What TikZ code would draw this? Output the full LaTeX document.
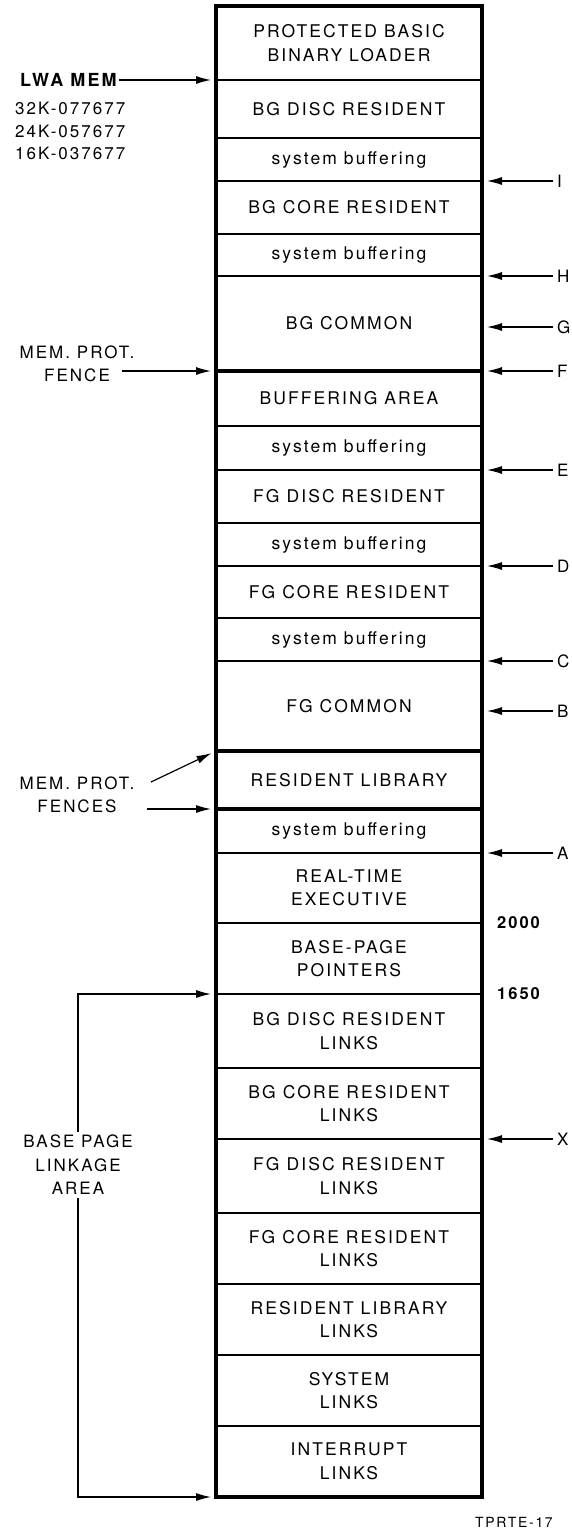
\documentclass[tikz,border=0pt]{standalone}
\usepackage{fontspec}
\setmainfont{TeX Gyre Heros}
\newfontfamily\memfont[LetterSpace=12]{TeX Gyre Heros}
\usetikzlibrary{arrows.meta,positioning,calc}

\begin{document}
\begin{tikzpicture}[x=1pt,y=-1pt,
    memrow/.style={draw, line width=1.3pt, minimum width=266pt, inner sep=0pt, outer sep=0pt,
      align=center, font=\memfont\fontsize{17.5}{23.5}\selectfont},
    tag/.style={font=\memfont\fontsize{17}{23.5}\selectfont, align=center, inner sep=3pt},
    ptr/.style={-{Latex[length=15pt,width=8pt]}, line width=1.2pt, shorten >=5pt},
    fence/.style={line width=3.5pt}]

  \useasboundingbox (0,0) rectangle (571,1532);

  % memory map, top to bottom
  \foreach \nm/\ya/\yb/\txt in {
      pbbl/6/80/{PROTECTED BASIC\\BINARY LOADER},
      bgdisc/80/138/{BG DISC RESIDENT},
      sbi/138/181/{system buffering},
      bgcore/181/234/{BG CORE RESIDENT},
      sbh/234/276/{system buffering},
      bgcom/276/371/{BG COMMON},
      bufarea/371/426/{BUFFERING AREA},
      sbe/426/470/{system buffering},
      fgdisc/470/523/{FG DISC RESIDENT},
      sbd/523/566/{system buffering},
      fgcore/566/618/{FG CORE RESIDENT},
      sbc/618/661/{system buffering},
      fgcom/661/751/{FG COMMON},
      reslib/751/809/{RESIDENT LIBRARY},
      sba/809/853/{system buffering},
      rte/853/923/{REAL-TIME\\EXECUTIVE},
      bpp/923/994/{BASE-PAGE\\POINTERS},
      bgdl/994/1068/{BG DISC RESIDENT\\LINKS},
      bgcl/1068/1139/{BG CORE RESIDENT\\LINKS},
      fgdl/1139/1213/{FG DISC RESIDENT\\LINKS},
      fgcl/1213/1284/{FG CORE RESIDENT\\LINKS},
      rll/1284/1355/{RESIDENT LIBRARY\\LINKS},
      sysl/1355/1426/{SYSTEM\\LINKS},
      intl/1426/1497/{INTERRUPT\\LINKS}}
    \node[memrow, minimum height={(\yb-\ya)*1pt}] (\nm) at (349,{(\ya+\yb)/2}) {\txt};

  % outer frame and fences
  \draw[line width=4.5pt] (pbbl.north west) rectangle (intl.south east);
  \draw[fence] (bgcom.south west) -- (bgcom.south east);
  \draw[fence] (fgcom.south west) -- (fgcom.south east);
  \draw[fence] (reslib.south west) -- (reslib.south east);

  % pointers on the right
  \foreach \lb/\yy in {I/181,H/276,G/327,F/371,E/470,D/566,C/661,B/711,A/853,X/1139} {
    \node[tag, anchor=west, inner sep=0pt] (lbl\lb) at (557,\yy) {\lb};
    \draw[ptr, shorten <=4pt] (lbl\lb.west) -- (lbl\lb.west -| pbbl.east);
  }

  % left side
  \node[font=\memfont\bfseries\fontsize{18}{20}\selectfont, anchor=west, inner sep=0pt] (lwa) at (20,80) {LWA MEM};
  \draw[ptr, shorten <=2pt] (lwa) -- (lwa -| pbbl.west);
  \node[font=\memfont\fontsize{17}{22.5}\selectfont, anchor=north west, align=left, inner sep=0pt] (addr) at (15,102)
    {32K-077677\\24K-057677\\16K-037677};

  \node[tag] (mpf) at (77,364) {MEM. PROT.\\FENCE};
  \coordinate (mpfa) at (122,371);
  \draw[ptr] (mpfa) -- (mpfa -| bgcom.west);

  \node[tag] (mpfs) at (77,795) {MEM. PROT.\\FENCES};
  \coordinate (mpfsa) at (151,782);
  \coordinate (mpfsb) at (147,809);
  \draw[ptr] (mpfsa) -- (fgcom.south west);
  \draw[ptr] (mpfsb) -- (mpfsb -| reslib.west);

  \node[tag] (bpla) at (78,1165) {BASE PAGE\\LINKAGE\\AREA};
  \draw[ptr] (bpla.north) |- (bgdl.north west);
  \draw[ptr] (bpla.south) |- (intl.south west);

  % base page addresses
  \node[font=\memfont\bfseries\fontsize{16.5}{20}\selectfont, anchor=west, inner sep=0pt] (a2000) at (497,923) {2000};
  \node[font=\memfont\bfseries\fontsize{16.5}{20}\selectfont, anchor=west, inner sep=0pt] (a1650) at (497,994) {1650};

  \node[font=\memfont\fontsize{14}{16}\selectfont, inner sep=0pt] (figno) at (514,1522) {TPRTE-17};
\end{tikzpicture}
\end{document}
